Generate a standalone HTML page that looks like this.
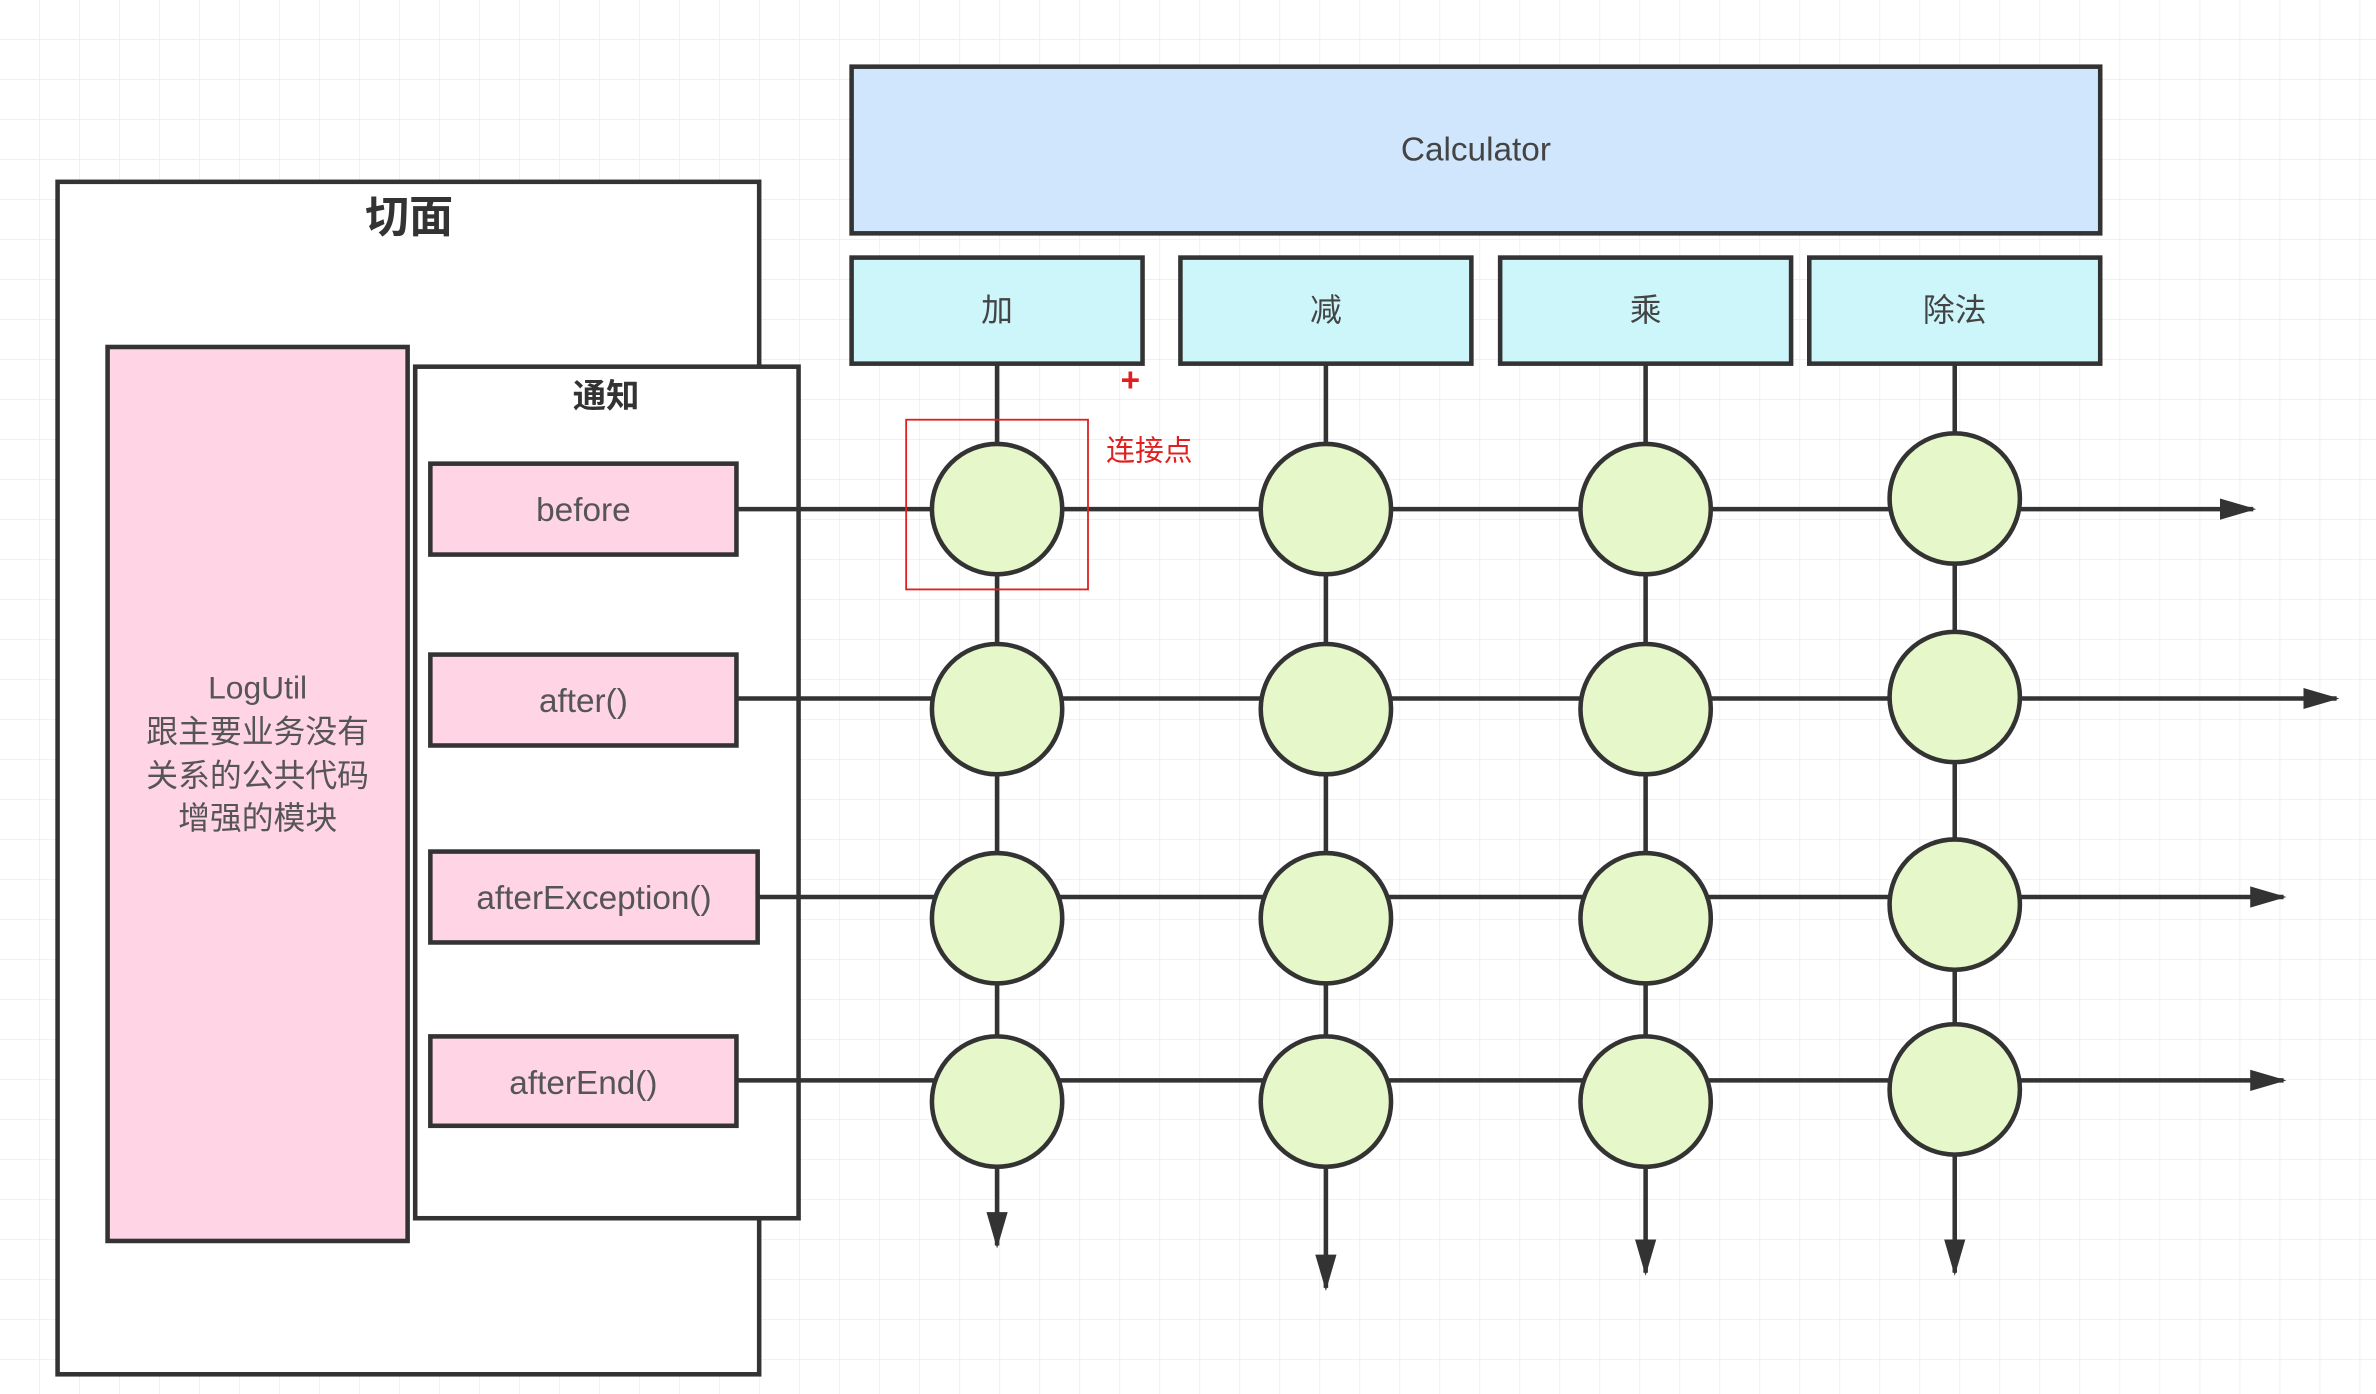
<!DOCTYPE html>
<html><head><meta charset="utf-8"><style>
html,body{margin:0;padding:0;background:#fff;}
svg{display:block;}
text{font-family:"Liberation Sans","Noto Sans CJK SC",sans-serif;}
</style></head><body>
<svg width="2376" height="1394" viewBox="0 0 1568 920" preserveAspectRatio="none" xmlns="http://www.w3.org/2000/svg">
<defs>
<pattern id="g" width="26.4" height="26.4" patternUnits="userSpaceOnUse">
<path d="M26.4 0V26.4M0 26.4H26.4" fill="none" stroke="#ececec" stroke-width="1"/>
</pattern>
<marker id="a" markerWidth="24" markerHeight="16" refX="22" refY="8" orient="auto" markerUnits="userSpaceOnUse" viewBox="0 0 24 16">
<path d="M0 1L24 8L0 15Z" fill="#333"/>
</marker>
</defs>
<rect width="1568" height="920" fill="#fff"/>
<rect width="1568" height="920" fill="url(#g)"/>

<rect x="38" y="120" width="463" height="787" fill="#fff" stroke="#333" stroke-width="3"/>
<text x="270" y="153" font-size="29" font-weight="bold" text-anchor="middle" fill="#333">切面</text>
<rect x="71" y="229" width="198" height="590" fill="#ffd4e5" stroke="#333" stroke-width="3"/>
<g font-size="21" fill="#555" text-anchor="middle">
<text x="170" y="461">LogUtil</text>
<text x="170" y="490">跟主要业务没有</text>
<text x="170" y="519">关系的公共代码</text>
<text x="170" y="547">增强的模块</text>
</g>
<rect x="274" y="242" width="253" height="562" fill="#fff" stroke="#333" stroke-width="3"/>
<text x="400" y="269" font-size="22" font-weight="bold" text-anchor="middle" fill="#333">通知</text>

<g stroke="#333" stroke-width="3" fill="none">
<line x1="486" y1="336" x2="1487" y2="336" marker-end="url(#a)"/>
<line x1="486" y1="461" x2="1542" y2="461" marker-end="url(#a)"/>
<line x1="500" y1="592" x2="1507" y2="592" marker-end="url(#a)"/>
<line x1="486" y1="713" x2="1507" y2="713" marker-end="url(#a)"/>
<line x1="658" y1="240" x2="658" y2="822" marker-end="url(#a)"/>
<line x1="875" y1="240" x2="875" y2="850" marker-end="url(#a)"/>
<line x1="1086" y1="240" x2="1086" y2="840" marker-end="url(#a)"/>
<line x1="1290" y1="240" x2="1290" y2="840" marker-end="url(#a)"/>
</g>

<g fill="#ffd4e5" stroke="#333" stroke-width="3">
<rect x="284" y="306" width="202" height="60"/>
<rect x="284" y="432" width="202" height="60"/>
<rect x="284" y="562" width="216" height="60"/>
<rect x="284" y="684" width="202" height="59"/>
</g>
<g font-size="22" fill="#555" text-anchor="middle">
<text x="385" y="344">before</text>
<text x="385" y="470">after()</text>
<text x="392" y="600">afterException()</text>
<text x="385" y="722">afterEnd()</text>
</g>

<rect x="562" y="44" width="824" height="110" fill="#cfe6fc" stroke="#333" stroke-width="3"/>
<text x="974" y="106" font-size="22" fill="#444" text-anchor="middle">Calculator</text>
<g fill="#cdf6fb" stroke="#333" stroke-width="3">
<rect x="562" y="170" width="192" height="70"/>
<rect x="779" y="170" width="192" height="70"/>
<rect x="990" y="170" width="192" height="70"/>
<rect x="1194" y="170" width="192" height="70"/>
</g>
<g font-size="21" fill="#444" text-anchor="middle">
<text x="658" y="212">加</text>
<text x="875" y="212">减</text>
<text x="1086" y="212">乘</text>
<text x="1290" y="212">除法</text>
</g>

<g fill="#e6f7c9" stroke="#333" stroke-width="3">
<circle cx="658" cy="336" r="43"/><circle cx="658" cy="468" r="43"/><circle cx="658" cy="606" r="43"/><circle cx="658" cy="727" r="43"/>
<circle cx="875" cy="336" r="43"/><circle cx="875" cy="468" r="43"/><circle cx="875" cy="606" r="43"/><circle cx="875" cy="727" r="43"/>
<circle cx="1086" cy="336" r="43"/><circle cx="1086" cy="468" r="43"/><circle cx="1086" cy="606" r="43"/><circle cx="1086" cy="727" r="43"/>
<circle cx="1290" cy="329" r="43"/><circle cx="1290" cy="460" r="43"/><circle cx="1290" cy="597" r="43"/><circle cx="1290" cy="719" r="43"/>
</g>

<rect x="598" y="277" width="120" height="112" fill="none" stroke="#e02020" stroke-width="1.2"/>
<text x="730" y="304" font-size="19" fill="#e02020">连接点</text>
<text x="746" y="258" font-size="22" font-weight="bold" fill="#e02020" text-anchor="middle">+</text>
</svg>
</body></html>
